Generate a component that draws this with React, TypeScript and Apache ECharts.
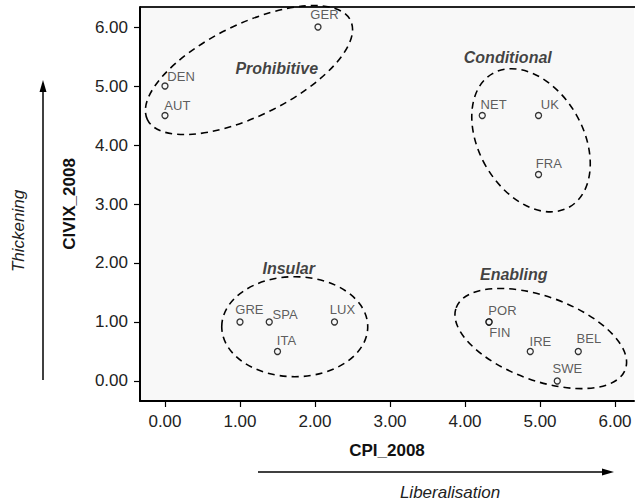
import React, { useEffect, useRef } from "react";
import * as echarts from "echarts";

// ---- data ----
const countries = ["DEN", "AUT", "GER", "NET", "UK", "FRA", "GRE", "SPA", "ITA", "LUX", "POR", "FIN", "IRE", "BEL", "SWE"];
const cpi2008 = [0.0, 0.0, 2.04, 4.23, 4.98, 4.98, 1.0, 1.39, 1.5, 2.26, 4.32, 4.32, 4.87, 5.51, 5.23];
const civix2008 = [5.0, 4.5, 6.0, 4.5, 4.5, 3.5, 1.0, 1.0, 0.5, 1.0, 1.0, 1.0, 0.5, 0.5, 0.0];
const tickValues = [0, 1, 2, 3, 4, 5, 6];
const groupNames = ["Prohibitive", "Conditional", "Insular", "Enabling"];
const groupLabelX = [1.49, 4.57, 1.65, 4.65];
const groupLabelY = [5.29, 5.49, 1.9, 1.81];
const ellipseCenterX = [1.12, 4.88, 1.73, 5.01];
const ellipseCenterY = [5.27, 4.08, 0.92, 0.72];

// ---- styling (pixel geometry of annotations) ----
const ellipseShape = [
  { rx: 113, ry: 46, rot: 26 },
  { rx: 52, ry: 77, rot: 30 },
  { rx: 73, ry: 50, rot: 0 },
  { rx: 90, ry: 42, rot: -20 },
];
// label offsets: [left edge dx, vertical center dy] from the point
const labelOffsets: Record<string, [number, number]> = {
  DEN: [3, -9], AUT: [0, -9], GER: [-7, -12], NET: [-1, -10], UK: [3, -10], FRA: [-2, -10],
  GRE: [-4, -12], SPA: [4, -7], ITA: [0, -10], LUX: [-4, -12], POR: [0, -11], FIN: [1, 11],
  IRE: [0, -9], BEL: [-1, -12], SWE: [-4, -12],
};

const FONT = "'Liberation Sans', Arial, sans-serif";

export default function App() {
  const ref = useRef<HTMLDivElement>(null);
  useEffect(() => {
    if (!ref.current) return;
    const chart = echarts.init(ref.current, null, { renderer: "svg" });
    const pointData = countries.map((n, i) => {
      const off = labelOffsets[n] || [3, -9];
      return {
        name: n,
        value: [cpi2008[i], civix2008[i]],
        label: { position: [off[0] + 3, off[1] + 3] },
      };
    });
    const option: any = {
      animation: false,
      textStyle: { fontFamily: FONT },
      grid: {
        left: 140, right: 1, top: 7, bottom: 103,
        show: true, backgroundColor: "#f8f8f8", borderColor: "#000", borderWidth: 0,
      },
      xAxis: {
        type: "value", min: -0.333, max: 6.253,
        name: "CPI_2008", nameLocation: "middle", nameGap: 41,
        nameTextStyle: { fontFamily: FONT, fontWeight: "bold", fontSize: 17, color: "#111" },
        axisLine: { show: true, onZero: false, lineStyle: { color: "#000", width: 2 } },
        axisTick: { show: true, length: 6, customValues: tickValues, lineStyle: { color: "#000", width: 1.2 } },
        axisLabel: { customValues: tickValues, formatter: (v: number) => v.toFixed(2), fontFamily: FONT, fontSize: 17, color: "#222", margin: 12 },
        splitLine: { show: false },
      },
      yAxis: {
        type: "value", min: -0.339, max: 6.339,
        name: "CIVIX_2008", nameLocation: "middle", nameGap: 62, nameRotate: 90,
        nameTextStyle: { fontFamily: FONT, fontWeight: "bold", fontSize: 17, color: "#111" },
        axisLine: { show: true, onZero: false, lineStyle: { color: "#000", width: 2 } },
        axisTick: { show: true, length: 6, customValues: tickValues, lineStyle: { color: "#000", width: 1.2 } },
        axisLabel: { customValues: tickValues, formatter: (v: number) => v.toFixed(2), fontFamily: FONT, fontSize: 17, color: "#222", margin: 12 },
        splitLine: { show: false },
      },
      graphic: [
        { type: "line", shape: { x1: 635, y1: 7, x2: 140, y2: 7 }, style: { stroke: "#222", lineWidth: 2 } },
        { type: "line", shape: { x1: 43, y1: 380, x2: 43, y2: 90 }, style: { stroke: "#000", lineWidth: 1.5 } },
        { type: "polygon", shape: { points: [[43, 80], [39.5, 92], [46.5, 92]] }, style: { fill: "#000" } },
        { type: "line", shape: { x1: 258, y1: 472, x2: 604, y2: 472 }, style: { stroke: "#000", lineWidth: 1.5 } },
        { type: "polygon", shape: { points: [[614, 472], [602, 468.5], [602, 475.5]] }, style: { fill: "#000" } },
        {
          type: "text", x: 18, y: 231, rotation: Math.PI / 2,
          style: { text: "Thickening", font: `italic 17px ${FONT}`, fill: "#222", align: "center", verticalAlign: "middle" },
        },
        {
          type: "text", x: 450, y: 492,
          style: { text: "Liberalisation", font: `italic 17px ${FONT}`, fill: "#222", align: "center", verticalAlign: "middle" },
        },
      ],
      series: [
        {
          type: "custom",
          name: "groups",
          silent: true,
          z: 1,
          data: ellipseCenterX.map((x, i) => [x, ellipseCenterY[i], i]),
          renderItem: (params: any, api: any) => {
            const c = api.coord([api.value(0), api.value(1)]);
            const s = ellipseShape[api.value(2)];
            return {
              type: "ellipse",
              x: c[0], y: c[1],
              rotation: (s.rot * Math.PI) / 180,
              shape: { cx: 0, cy: 0, rx: s.rx, ry: s.ry },
              style: { fill: "none", stroke: "#000", lineWidth: 1.6, lineDash: [7, 5] },
            };
          },
        },
        {
          type: "scatter",
          name: "groupLabels",
          symbolSize: 0,
          silent: true,
          z: 3,
          data: groupNames.map((n, i) => ({ name: n, value: [groupLabelX[i], groupLabelY[i]] })),
          label: {
            show: true, position: "inside", formatter: "{b}",
            fontFamily: FONT, fontStyle: "italic", fontWeight: "bold", fontSize: 16, color: "#111",
          },
        },
        {
          type: "scatter",
          name: "countries",
          symbol: "circle",
          symbolSize: 6,
          z: 4,
          itemStyle: { color: "#f8f8f8", borderColor: "#000", borderWidth: 1.3 },
          data: pointData,
          label: {
            show: true, formatter: "{b}", align: "left", verticalAlign: "middle",
            fontFamily: FONT, fontSize: 13, color: "#333",
          },
        },
      ],
    };
    chart.setOption(option);
    return () => chart.dispose();
  }, []);
  return <div ref={ref} style={{ width: 635, height: 504, position: "absolute", left: 0, top: 0 }} />;
}
